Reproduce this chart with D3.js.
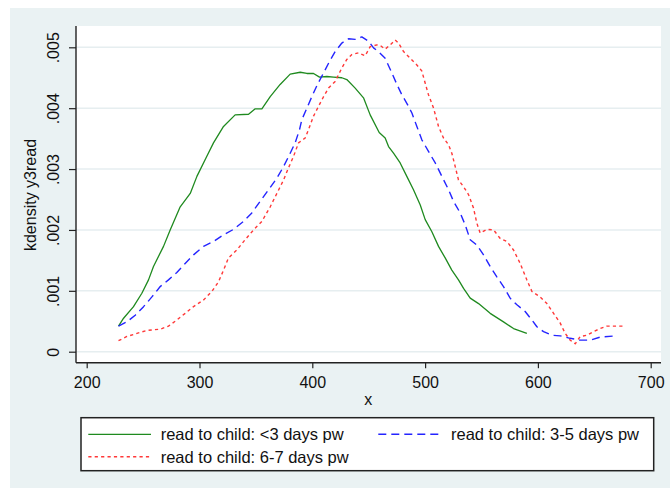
<!DOCTYPE html>
<html>
<head>
<meta charset="utf-8">
<script src="https://cdn.jsdelivr.net/npm/d3@7"></script>
<style>
  html, body { margin: 0; padding: 0; background: #ffffff; }
  svg { display: block; }
  text { font-family: "Liberation Sans", Arial, sans-serif; fill: #111; }
</style>
</head>
<body>
<svg id="chart" width="670" height="488"></svg>
<script>
// ---------- data ----------
const xTicks = [200, 300, 400, 500, 600, 700];
const xTickLabels = ["200", "300", "400", "500", "600", "700"];
const yTicks = [0, 0.001, 0.002, 0.003, 0.004, 0.005];
const yTickLabels = ["0", ".001", ".002", ".003", ".004", ".005"];
const xTitle = "x";
const yTitle = "kdensity y3read";
const seriesNames = ["read to child: <3 days pw", "read to child: 3-5 days pw", "read to child: 6-7 days pw"];

const lowX = [228.2, 232.7, 241.5, 248.9, 254.8, 259.2, 268.1, 274, 282.9, 291.8, 297.7, 306.5, 312.4, 321.3, 331.6, 343.5, 349.4, 355.3, 362.7, 371.5, 380.4, 389.3, 395.2, 401.1, 406.4, 412.9, 418.8, 426.2, 430.6, 438, 445.4, 451.3, 459.3, 464.6, 467.6, 472, 477.9, 483.8, 489.7, 495.7, 500.1, 506, 511.9, 517.8, 523.7, 529.6, 534.1, 540, 547.4, 557.7, 569.5, 578.4, 590.2];
const lowY = [0.00042, 0.00055, 0.00074, 0.00096, 0.00118, 0.00140, 0.00173, 0.00200, 0.00238, 0.00260, 0.00288, 0.00321, 0.00343, 0.00370, 0.00389, 0.00390, 0.00399, 0.00399, 0.00419, 0.00439, 0.00456, 0.00459, 0.00457, 0.00457, 0.00451, 0.00452, 0.00451, 0.00450, 0.00447, 0.00433, 0.00417, 0.00389, 0.00360, 0.00351, 0.00337, 0.00326, 0.00310, 0.00288, 0.00266, 0.00241, 0.00217, 0.00197, 0.00173, 0.00154, 0.00134, 0.00118, 0.00104, 0.00088, 0.00079, 0.00063, 0.00049, 0.00038, 0.00030];

const midX = [228.2, 235.6, 243, 250.4, 257.8, 265.2, 272.5, 279.9, 287.3, 294.7, 303.6, 312.4, 321.3, 330.2, 339, 346.4, 353.8, 361.2, 368.6, 374.5, 380.4, 384.8, 388.7, 390.7, 395.2, 399.6, 404.6, 410, 415.3, 420.3, 426.2, 432.1, 438, 443.9, 449.9, 454.3, 458.7, 464.6, 470.5, 475, 479.4, 483.8, 488.3, 492.7, 497.1, 503, 509, 514.9, 520.8, 525.2, 531.1, 535.6, 540, 545.9, 551.8, 557.7, 563.6, 569.5, 575.4, 581.4, 588.7, 594.7, 599.1, 605, 612.4, 619.8, 628.6, 637.5, 646.4, 655.2, 668.5];
const midY = [0.00042, 0.00049, 0.00060, 0.00074, 0.00090, 0.00107, 0.00118, 0.00130, 0.00145, 0.00159, 0.00173, 0.00181, 0.00192, 0.00201, 0.00214, 0.00228, 0.00247, 0.00266, 0.00285, 0.00304, 0.00326, 0.00343, 0.00365, 0.00381, 0.00400, 0.00419, 0.00439, 0.00458, 0.00477, 0.00493, 0.00507, 0.00514, 0.00513, 0.00517, 0.00510, 0.00499, 0.00493, 0.00482, 0.00458, 0.00439, 0.00422, 0.00408, 0.00392, 0.00370, 0.00348, 0.00329, 0.00310, 0.00288, 0.00266, 0.00247, 0.00228, 0.00208, 0.00184, 0.00175, 0.00159, 0.00140, 0.00123, 0.00107, 0.00088, 0.00077, 0.00066, 0.00052, 0.00041, 0.00033, 0.00027, 0.00026, 0.00022, 0.00019, 0.00019, 0.00024, 0.00026];

const highX = [228.2, 235.6, 244.5, 253.3, 265.2, 272.5, 279.9, 287.3, 294.7, 303.6, 311, 316.9, 321.3, 325.7, 333.1, 340.5, 347.9, 355.3, 362.7, 368.6, 374.5, 378.9, 383.4, 387.8, 393.7, 396.7, 401.1, 405.5, 410, 414.4, 420.3, 426.2, 430.6, 435.1, 441, 446.9, 451.3, 457.2, 460.2, 464.6, 469.1, 473.5, 476.4, 480.9, 486.8, 492.7, 497.1, 500.1, 503, 507.5, 511.9, 516.3, 520.8, 523.7, 526.7, 529.6, 534.1, 538.5, 542.9, 545.9, 548.8, 554.8, 560.7, 566.6, 572.5, 578.4, 584.3, 590.2, 594.7, 602, 608, 613.9, 619.8, 624.2, 628.6, 633.1, 637.5, 643.4, 649.3, 655.2, 661.1, 670, 677.4];
const highY = [0.00018, 0.00025, 0.00030, 0.00035, 0.00037, 0.00042, 0.00052, 0.00063, 0.00074, 0.00085, 0.00099, 0.00115, 0.00134, 0.00154, 0.00167, 0.00184, 0.00200, 0.00214, 0.00238, 0.00260, 0.00282, 0.00302, 0.00321, 0.00343, 0.00351, 0.00365, 0.00387, 0.00403, 0.00419, 0.00433, 0.00444, 0.00466, 0.00480, 0.00488, 0.00491, 0.00486, 0.00501, 0.00504, 0.00503, 0.00497, 0.00504, 0.00512, 0.00507, 0.00493, 0.00482, 0.00471, 0.00461, 0.00441, 0.00422, 0.00400, 0.00370, 0.00351, 0.00340, 0.00326, 0.00304, 0.00282, 0.00271, 0.00258, 0.00236, 0.00211, 0.00195, 0.00201, 0.00200, 0.00186, 0.00181, 0.00167, 0.00145, 0.00118, 0.00099, 0.00090, 0.00079, 0.00063, 0.00047, 0.00030, 0.00019, 0.00013, 0.00025, 0.00027, 0.00033, 0.00038, 0.00042, 0.00042, 0.00042];

// ---------- layout ----------
const svg = d3.select("#chart");
const plot = { left: 76, right: 661, top: 26, bottom: 362.7 };
const x = d3.scaleLinear().domain([200, 700]).range([86.7, 650.7]);
const y = d3.scaleLinear().domain([0, 0.005]).range([351.7, 47.3]);

const styles = [
  { color: "#1f8a1f", dash: null, width: 1.3 },
  { color: "#2424ff", dash: "8,5", width: 1.4 },
  { color: "#ff3838", dash: "3.2,3.2", width: 1.4 }
];

// background
svg.append("rect").attr("x", 10).attr("y", 8).attr("width", 660).attr("height", 480).attr("fill", "#eaf2f3");
svg.append("rect").attr("x", plot.left).attr("y", plot.top)
  .attr("width", plot.right - plot.left).attr("height", plot.bottom - plot.top).attr("fill", "#ffffff");

// grid
svg.append("g").selectAll("line").data(yTicks).join("line")
  .attr("x1", plot.left).attr("x2", plot.right)
  .attr("y1", d => y(d)).attr("y2", d => y(d))
  .attr("stroke", "#e6eef0").attr("stroke-width", 1.5);

// series
const series = [
  { xs: lowX, ys: lowY },
  { xs: midX, ys: midY },
  { xs: highX, ys: highY }
];
const line = d3.line().x(d => x(d[0])).y(d => y(d[1]));
series.forEach((s, i) => {
  const pts = s.xs.map((v, k) => [v, s.ys[k]]);
  svg.append("path").datum(pts)
    .attr("d", line)
    .attr("fill", "none")
    .attr("stroke", styles[i].color)
    .attr("stroke-width", styles[i].width)
    .attr("stroke-dasharray", styles[i].dash)
    .attr("stroke-linejoin", "round");
});

// axes
const yAxis = svg.append("g").attr("transform", `translate(${plot.left},0)`)
  .call(d3.axisLeft(y).tickValues(yTicks).tickSize(7).tickFormat((d, i) => yTickLabels[i]));
yAxis.select(".domain").remove();
yAxis.selectAll(".tick line").attr("stroke", "#222").attr("stroke-width", 1.2);
yAxis.selectAll(".tick text")
  .attr("transform", "rotate(-90)")
  .attr("x", 0).attr("y", -23).attr("dy", null)
  .attr("dominant-baseline", "central")
  .attr("text-anchor", "middle")
  .style("font-size", "16px").style("font-family", "Liberation Sans, Arial, sans-serif").attr("fill", "#111");

const xAxis = svg.append("g").attr("transform", `translate(0,${plot.bottom})`)
  .call(d3.axisBottom(x).tickValues(xTicks).tickSize(5.5).tickFormat((d, i) => xTickLabels[i]));
xAxis.select(".domain").remove();
xAxis.selectAll(".tick line").attr("stroke", "#222").attr("stroke-width", 1.2);
xAxis.selectAll(".tick text")
  .attr("y", 19.7).attr("dy", null)
  .attr("dominant-baseline", "central")
  .style("font-size", "16px").style("font-family", "Liberation Sans, Arial, sans-serif").attr("fill", "#111");

svg.append("line").attr("x1", plot.left).attr("x2", plot.left).attr("y1", plot.top).attr("y2", plot.bottom)
  .attr("stroke", "#222").attr("stroke-width", 1.4);
svg.append("line").attr("x1", plot.left).attr("x2", plot.right).attr("y1", plot.bottom).attr("y2", plot.bottom)
  .attr("stroke", "#222").attr("stroke-width", 1.4);

// titles
svg.append("text").attr("x", 368.3).attr("y", 399).attr("text-anchor", "middle")
  .attr("dominant-baseline", "central").style("font-size", "16px").text(xTitle);
svg.append("text").attr("transform", "translate(30,195) rotate(-90)").attr("text-anchor", "middle")
  .attr("dominant-baseline", "central").style("font-size", "16px").text(yTitle);

// legend
svg.append("rect").attr("x", 81).attr("y", 417.7).attr("width", 572.7).attr("height", 53)
  .attr("fill", "#ffffff").attr("stroke", "#222").attr("stroke-width", 1.5);
const legendPos = [
  { lx: 88.3, tx: 160.7, ly: 434.3 },
  { lx: 378.3, tx: 451, ly: 434.3 },
  { lx: 88.3, tx: 160.7, ly: 456.7 }
];
const lg = svg.append("g").selectAll("g").data(seriesNames).join("g");
lg.append("line")
  .attr("x1", (d, i) => legendPos[i].lx).attr("x2", (d, i) => legendPos[i].lx + 62.7)
  .attr("y1", (d, i) => legendPos[i].ly).attr("y2", (d, i) => legendPos[i].ly)
  .attr("stroke", (d, i) => styles[i].color)
  .attr("stroke-width", (d, i) => styles[i].width)
  .attr("stroke-dasharray", (d, i) => styles[i].dash);
lg.append("text")
  .attr("x", (d, i) => legendPos[i].tx).attr("y", (d, i) => legendPos[i].ly)
  .attr("dominant-baseline", "central")
  .style("font-size", "16.5px")
  .text(d => d);
</script>
</body>
</html>
